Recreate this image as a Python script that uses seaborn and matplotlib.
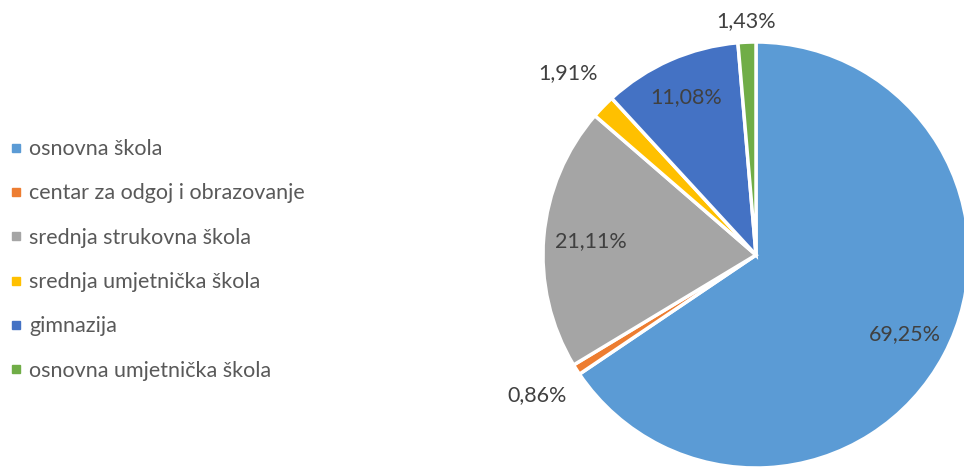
import matplotlib.pyplot as plt
from matplotlib.lines import Line2D
import numpy as np
import seaborn as sns

categories = ['osnovna škola', 'centar za odgoj i obrazovanje', 'srednja strukovna škola',
              'srednja umjetnička škola', 'gimnazija', 'osnovna umjetnička škola']
shares = [69.25, 0.86, 21.11, 1.91, 11.08, 1.43]
label_texts = ['69,25%', '0,86%', '21,11%', '1,91%', '11,08%', '1,43%']
colors = ['#5B9BD5', '#ED7D31', '#A5A5A5', '#FFC000', '#4472C4', '#70AD47']
label_dist = [0.79, 1.22, 0.78, 1.23, 0.81, 1.1]

sns.set_theme(style='white')
plt.rcParams['font.family'] = ['Lato', 'DejaVu Sans']
pal = sns.color_palette(colors)

fig = plt.figure(figsize=(9.64, 4.70), dpi=100)
ax = fig.add_axes([543 / 964, 2 / 470, 426 / 964, 426 / 470])

wedges, _ = ax.pie(shares, colors=pal, startangle=90, counterclock=False,
                   wedgeprops=dict(edgecolor='white', linewidth=2.5))
ax.set_xlim(-1, 1)
ax.set_ylim(-1, 1)
ax.set_aspect('equal')

for w, txt, d in zip(wedges, label_texts, label_dist):
    mid = np.deg2rad((w.theta1 + w.theta2) / 2)
    ax.text(d * np.cos(mid), d * np.sin(mid), txt, ha='center', va='center',
            fontsize=15.5, color='#404040', clip_on=False)

handles = [Line2D([], [], marker='s', linestyle='none', markersize=6,
                  markerfacecolor=c, markeredgecolor=c) for c in pal]
fig.legend(handles, categories, loc='center left', bbox_to_anchor=(0.0, 0.447),
           frameon=False, fontsize=15.5, labelcolor='#595959', handlelength=0.6,
           handletextpad=0.3, labelspacing=1.13, borderaxespad=0.1, borderpad=0.35)

plt.savefig('out.png', dpi=100)
